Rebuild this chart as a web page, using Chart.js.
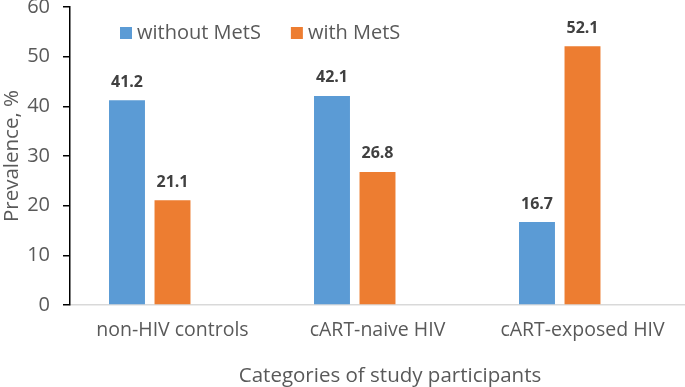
<!DOCTYPE html>
<html><head><meta charset="utf-8">
<script src="https://cdn.jsdelivr.net/npm/chart.js@4/dist/chart.umd.min.js"></script>
<style>html,body{margin:0;padding:0;background:#fff}#wrap{width:685px;height:387px}</style>
</head><body><div id="wrap"><canvas id="c" width="685" height="387"></canvas></div>
<script>
const categories = ["non-HIV controls", "cART-naive HIV", "cART-exposed HIV"];
const withoutMetS = [41.2, 42.1, 16.7];
const withMetS = [21.1, 26.8, 52.1];
const seriesNames = ["without MetS", "with MetS"];
const yTicks = [0, 10, 20, 30, 40, 50, 60];
const xTitle = "Categories of study participants";
const yTitle = "Prevalence, %";
const FONT = "'Open Sans', sans-serif";
const colors = ["#5B9BD5", "#ED7D31"];

const valueLabels = {
  id: 'valueLabels',
  afterDatasetsDraw(chart) {
    const ctx = chart.ctx;
    ctx.save();
    ctx.font = "bold 16px " + FONT;
    ctx.fillStyle = "#404040";
    ctx.textAlign = "center";
    ctx.textBaseline = "middle";
    [0, 1].forEach(di => {
      const meta = chart.getDatasetMeta(di);
      meta.data.forEach((bar, i) => {
        const v = chart.data.datasets[di].data[i];
        ctx.fillText(v.toFixed(1), bar.x, bar.y - 18);
      });
    });
    ctx.restore();
  }
};

const customLegend = {
  id: 'customLegend',
  afterDraw(chart) {
    const ctx = chart.ctx;
    ctx.save();
    ctx.font = "20px " + FONT;
    ctx.textBaseline = "middle";
    let x = 120;
    const y = 33;
    seriesNames.forEach((name, i) => {
      ctx.fillStyle = colors[i];
      ctx.fillRect(x, y - 6, 12, 12);
      ctx.fillStyle = "#595959";
      ctx.fillText(name, x + 17, y);
      x += 17 + ctx.measureText(name).width + 30;
    });
    ctx.restore();
  }
};

const xAxisTitle = {
  id: 'xAxisTitle',
  afterDraw(chart) {
    const ctx = chart.ctx;
    ctx.save();
    ctx.font = "20.5px " + FONT;
    ctx.fillStyle = "#595959";
    ctx.textAlign = "center";
    ctx.textBaseline = "alphabetic";
    ctx.fillText(xTitle, 390, 382);
    ctx.restore();
  }
};

new Chart(document.getElementById('c'), {
  type: 'bar',
  data: {
    labels: categories,
    datasets: [
      { label: seriesNames[0], data: withoutMetS, backgroundColor: colors[0], borderWidth: 0 },
      { label: seriesNames[1], data: withMetS, backgroundColor: colors[1], borderWidth: 0 },
      { label: "", data: [null, null, null], backgroundColor: "rgba(0,0,0,0)" }
    ]
  },
  options: {
    responsive: false,
    animation: false,
    layout: { padding: { top: 7, right: 0, left: 0, bottom: 0 } },
    datasets: { bar: { categoryPercentage: 0.666, barPercentage: 0.79 } },
    plugins: { legend: { display: false }, tooltip: { enabled: false } },
    scales: {
      x: {
        grid: { display: false, drawTicks: false },
        border: { display: true, color: "#d9d9d9", width: 1.5 },
        ticks: { color: "#595959", font: { family: FONT, size: 19.5 }, padding: 14 },
        title: { display: false },
        afterFit(s) { s.height = 82; }
      },
      y: {
        min: 0, max: 60,
        afterBuildTicks(s) { s.ticks = yTicks.map(v => ({ value: v })); },
        grid: { drawOnChartArea: false, drawTicks: true, tickLength: 7, color: "#000", lineWidth: 1.5 },
        border: { display: true, color: "#000", width: 1.5 },
        ticks: { color: "#595959", font: { family: FONT, size: 20 }, padding: 13 },
        title: { display: true, text: yTitle, color: "#595959", font: { family: FONT, size: 20.5 }, padding: { top: 0, bottom: 0 } },
        afterFit(s) { s.width = 70; s.paddingTop = 0; }
      }
    }
  },
  plugins: [valueLabels, customLegend, xAxisTitle]
});
</script></body></html>
